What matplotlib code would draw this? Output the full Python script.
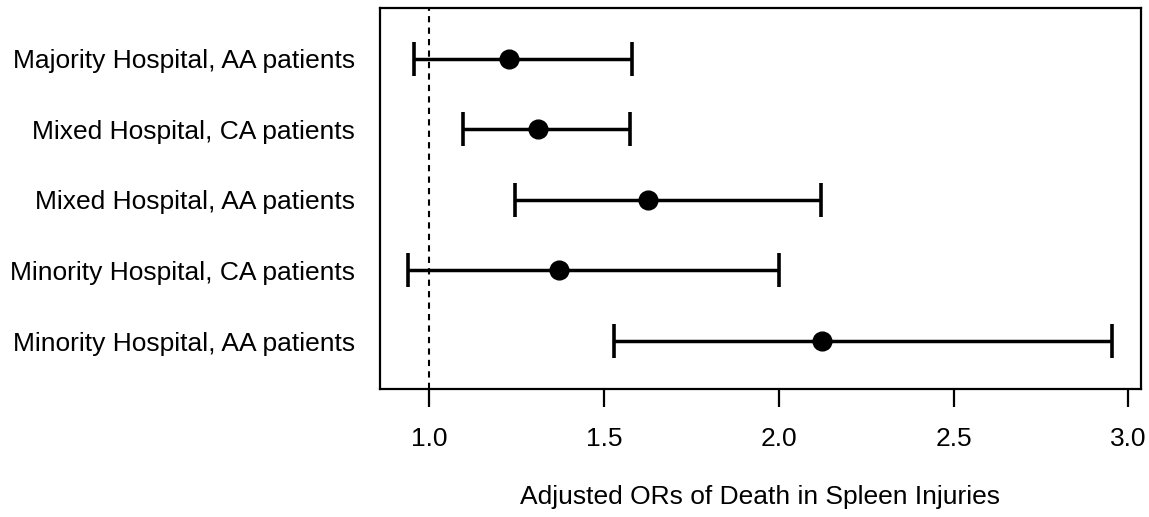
import matplotlib
matplotlib.use("Agg")
import matplotlib.pyplot as plt

labels = ["Majority Hospital, AA patients",
          "Mixed Hospital, CA patients",
          "Mixed Hospital, AA patients",
          "Minority Hospital, CA patients",
          "Minority Hospital, AA patients"]
estimates = [1.229, 1.311, 1.626, 1.371, 2.123]
lower = [0.957, 1.097, 1.246, 0.940, 1.529]
upper = [1.580, 1.574, 2.120, 2.000, 2.954]
xticks = [1.0, 1.5, 2.0, 2.5, 3.0]
xlabel = "Adjusted ORs of Death in Spleen Injuries"

plt.rcParams['font.family'] = ['Liberation Sans', 'DejaVu Sans']
fs = 19

fig = plt.figure(figsize=(11.49, 5.17), dpi=100)
ax = fig.add_axes([380/1149, 1-389/517, (1141-380)/1149, (389-8)/517])

n = len(labels)
ys = list(range(n, 0, -1))
xerr = [[e - l for e, l in zip(estimates, lower)],
        [u - e for e, u in zip(estimates, upper)]]
ax.errorbar(estimates, ys, xerr=xerr, fmt='o', color='black', ecolor='black',
            elinewidth=2.5, capsize=12, capthick=2.6, markersize=13.5, zorder=3)
ax.axvline(1.0, color='black', linestyle=(0, (3, 2.5)), linewidth=1.5, zorder=1)

ax.set_xlim(0.86, 3.036)
ax.set_ylim(0.32, 5.72)
ax.set_xticks(xticks)
ax.set_xticklabels([f"{t:.1f}" for t in xticks], fontsize=fs)
ax.set_yticks(ys)
ax.set_yticklabels(labels, fontsize=fs)
ax.tick_params(axis='y', length=0, pad=18)
ax.tick_params(axis='x', length=13, width=1.6, pad=14.5)
for s in ax.spines.values():
    s.set_linewidth(1.6)
ax.set_xlabel(xlabel, fontsize=fs, labelpad=24.5)

fig.savefig("out.png", dpi=100)
